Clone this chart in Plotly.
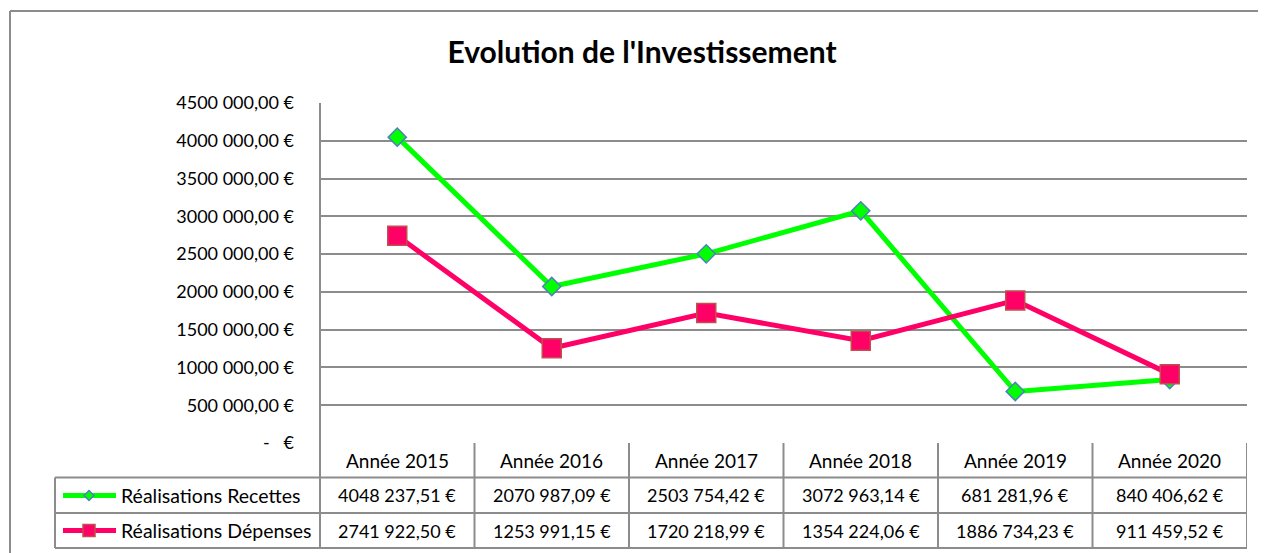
import plotly.graph_objects as go

# ---- data ----
categories = ["Année 2015", "Année 2016", "Année 2017", "Année 2018", "Année 2019", "Année 2020"]
recettes = [4048237.51, 2070987.09, 2503754.42, 3072963.14, 681281.96, 840406.62]
depenses = [2741922.50, 1253991.15, 1720218.99, 1354224.06, 1886734.23, 911459.52]
series_names = ["Réalisations Recettes", "Réalisations Dépenses"]
tick_values = [0, 500000, 1000000, 1500000, 2000000, 2500000, 3000000, 3500000, 4000000, 4500000]
tick_labels = ["-   €", "500 000,00 €", "1000 000,00 €", "1500 000,00 €", "2000 000,00 €",
               "2500 000,00 €", "3000 000,00 €", "3500 000,00 €", "4000 000,00 €", "4500 000,00 €"]
title_text = "Evolution de l'Investissement"

FONT = "Lato"
GRID = "#8c8c8c"
GREEN = "#00FF00"
PINK = "#FF0066"

OFF = 8  # page body margin offset
W, H = 1300, 580  # slightly larger than the window; the overflow is hidden
PL, PR, PT, PB = 320, 1247, 103, 443  # plot area in screen px


def px_x(px):
    return (px - PL) / (PR - PL)


def px_y(py):
    return (PB - py) / (PB - PT)


def fmt_eur(v):
    cents = int(round(v * 100))
    ip, dec = divmod(cents, 100)
    if ip >= 1000:
        s = f"{ip // 1000} {ip % 1000:03d}"
    else:
        s = f"{ip}"
    return f"{s},{dec:02d} €"


xs = list(range(len(categories)))

fig = go.Figure()
fig.add_trace(go.Scatter(
    x=xs, y=recettes, mode="lines+markers", name=series_names[0],
    line=dict(color=GREEN, width=5),
    marker=dict(symbol="diamond", size=14, color=GREEN, line=dict(color="#4F81BD", width=1.5)),
    showlegend=False, cliponaxis=False))
fig.add_trace(go.Scatter(
    x=xs, y=depenses, mode="lines+markers", name=series_names[1],
    line=dict(color=PINK, width=5),
    marker=dict(symbol="square", size=19, color=PINK, line=dict(color="#C0504D", width=1.5)),
    showlegend=False, cliponaxis=False))

shapes = []
line_style = dict(color=GRID, width=2)
# outer chart border (top and left)
shapes.append(dict(type="line", xref="paper", yref="paper", x0=px_x(10), x1=px_x(1310),
                   y0=px_y(11), y1=px_y(11), line=line_style, layer="below"))
shapes.append(dict(type="line", xref="paper", yref="paper", x0=px_x(10), x1=px_x(10),
                   y0=px_y(11), y1=px_y(590), line=line_style, layer="below"))
# y-axis line extended through table
shapes.append(dict(type="line", xref="paper", yref="paper", x0=0, x1=0,
                   y0=1, y1=px_y(548), line=line_style))
# table column separators
for k in range(1, len(categories) + 1):
    shapes.append(dict(type="line", xref="x", yref="paper", x0=k - 0.5, x1=k - 0.5,
                       y0=0, y1=px_y(548), line=line_style))
# table horizontal lines
for ry in [477.5, 513, 548]:
    shapes.append(dict(type="line", xref="paper", yref="paper", x0=px_x(55), x1=1,
                       y0=px_y(ry), y1=px_y(ry), line=line_style))
# legend column left border
shapes.append(dict(type="line", xref="paper", yref="paper", x0=px_x(55), x1=px_x(55),
                   y0=px_y(477.5), y1=px_y(548), line=line_style))

# legend keys
row_centers = [495.5, 530.5]
for i, (col, name) in enumerate(zip([GREEN, PINK], series_names)):
    cy = row_centers[i]
    shapes.append(dict(type="line", xref="paper", yref="paper", x0=px_x(63), x1=px_x(116),
                       y0=px_y(cy), y1=px_y(cy), line=dict(color=col, width=5)))
    if i == 0:
        d = 5
        path = (f"M {px_x(89 - d)},{px_y(cy)} L {px_x(89)},{px_y(cy - d)} "
                f"L {px_x(89 + d)},{px_y(cy)} L {px_x(89)},{px_y(cy + d)} Z")
        shapes.append(dict(type="path", xref="paper", yref="paper", path=path,
                           fillcolor=GREEN, line=dict(color="#4F81BD", width=1.5)))
    else:
        d = 6
        shapes.append(dict(type="rect", xref="paper", yref="paper",
                           x0=px_x(89 - d), x1=px_x(89 + d), y0=px_y(cy - d), y1=px_y(cy + d),
                           fillcolor=PINK, line=dict(color="#C0504D", width=1.5)))

annotations = []
num_font = dict(family=FONT, size=18, color="#000000")
hdr_font = dict(family=FONT, size=19, color="#000000")
leg_font = dict(family=FONT, size=19.5, color="#000000")
for i, c in enumerate(categories):
    annotations.append(dict(x=i, y=px_y(460), xref="x", yref="paper", text=c,
                            showarrow=False, font=hdr_font, xanchor="center", yanchor="middle"))
for r, vals in enumerate([recettes, depenses]):
    for i, v in enumerate(vals):
        annotations.append(dict(x=i, y=px_y(row_centers[r]), xref="x", yref="paper",
                                text=fmt_eur(v), showarrow=False, font=num_font,
                                xanchor="center", yanchor="middle"))
    annotations.append(dict(x=px_x(119), y=px_y(row_centers[r]), xref="paper", yref="paper",
                            text=series_names[r], showarrow=False, font=leg_font,
                            xanchor="left", yanchor="middle"))

fig.update_layout(
    width=W, height=H,
    margin=dict(l=PL - OFF, r=W - (PR - OFF), t=PT - OFF, b=H - (PB - OFF)),
    paper_bgcolor="white", plot_bgcolor="white",
    title=dict(text=f"<b>{title_text}</b>", x=(642 - OFF) / W, y=1 - (52 - OFF) / H,
               xanchor="center", yanchor="middle",
               font=dict(family=FONT, size=30, color="#000000")),
    xaxis=dict(range=[-0.5, len(categories) - 0.5], showgrid=False, zeroline=False,
               showticklabels=False, showline=False, fixedrange=True),
    yaxis=dict(range=[0, 4500000], tickvals=tick_values, ticktext=tick_labels,
               showgrid=True, gridcolor=GRID, gridwidth=2, zeroline=False,
               showline=False, tickfont=num_font, ticklabelstandoff=25, fixedrange=True),
    shapes=shapes,
    annotations=annotations,
    showlegend=False,
)

fig.write_html("out.html", config={"displayModeBar": False},
               post_script="document.body.style.overflow='hidden';")
